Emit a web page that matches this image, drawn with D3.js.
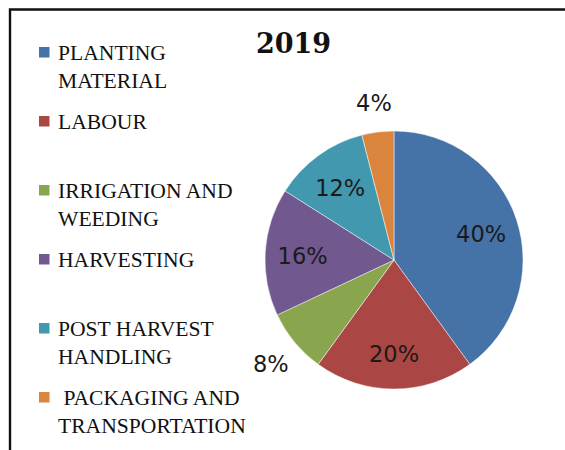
<!DOCTYPE html>
<html>
<head>
<meta charset="utf-8">
<script src="https://cdn.jsdelivr.net/npm/d3@7"></script>
<style>
  html, body { margin: 0; padding: 0; background: #fff; }
  svg { display: block; }
</style>
</head>
<body>
<div id="chart"></div>
<script>
// Cost shares for 2019
const title = "2019";
const categories = [
  "PLANTING\nMATERIAL",
  "LABOUR",
  "IRRIGATION AND\nWEEDING",
  "HARVESTING",
  "POST HARVEST\nHANDLING",
  " PACKAGING AND\nTRANSPORTATION"
];
const shares = [40, 20, 8, 16, 12, 4];
const colors = ["#4572A7", "#AA4643", "#89A54E", "#71588F", "#4198AF", "#DB843D"];

const W = 565, H = 450;
const svg = d3.select("#chart").append("svg")
  .attr("width", W).attr("height", H);

// frame (top and left edges visible)
svg.append("path")
  .attr("d", `M10,${H} V9.5 H${W}`)
  .attr("fill", "none")
  .attr("stroke", "#111")
  .attr("stroke-width", 2.4);

// title
svg.append("text")
  .attr("x", 293.5).attr("y", 53)
  .attr("text-anchor", "middle")
  .attr("font-family", "'DejaVu Serif', serif")
  .attr("font-weight", "bold")
  .attr("font-size", 27)
  .attr("fill", "#111")
  .text(title);

// pie
const cx = 394, cy = 260, r = 129;
const pie = d3.pie().sort(null).value(d => d)
  .startAngle(0).endAngle(2 * Math.PI);
const arcs = pie(shares);
const arc = d3.arc().innerRadius(0).outerRadius(r);
const inLabel = d3.arc().innerRadius(r * 0.71).outerRadius(r * 0.71);
const outLabel = d3.arc().innerRadius(r * 1.24).outerRadius(r * 1.24);

const g = svg.append("g").attr("transform", `translate(${cx},${cy})`);
g.selectAll("path.slice").data(arcs).join("path")
  .attr("class", "slice")
  .attr("d", arc)
  .attr("fill", (d, i) => colors[i])
  .attr("stroke", "#ffffff")
  .attr("stroke-opacity", 0.6)
  .attr("stroke-width", 0.8);

const fmt = v => v + "%";
g.selectAll("text.lbl").data(arcs).join("text")
  .attr("class", "lbl")
  .attr("transform", d => {
    const c = (d.data < 10 ? outLabel : inLabel).centroid(d);
    return `translate(${c[0]},${c[1] + 2})`;
  })
  .attr("dy", "0.36em")
  .attr("text-anchor", "middle")
  .attr("font-family", "'DejaVu Sans', sans-serif")
  .attr("font-size", 22.5)
  .attr("fill", "#1a1a1a")
  .text(d => fmt(d.data));

// legend
const legendY = d3.scaleLinear().domain([0, categories.length - 1]).range([60, 405]);
const lg = svg.append("g");
const item = lg.selectAll("g.item").data(categories).join("g")
  .attr("class", "item")
  .attr("transform", (d, i) => `translate(0,${legendY(i)})`);

item.append("rect")
  .attr("x", 39).attr("y", -13)
  .attr("width", 10.5).attr("height", 10.5)
  .attr("fill", (d, i) => colors[i]);

item.append("text")
  .attr("font-family", "'Liberation Serif', 'Times New Roman', serif")
  .attr("font-size", 21.6)
  .attr("fill", "#111")
  .style("white-space", "pre")
  .each(function(d) {
    const t = d3.select(this);
    d.split("\n").forEach((line, k) => {
      t.append("tspan")
        .attr("x", 58)
        .attr("y", k * 28)
        .text(line);
    });
  });
</script>
</body>
</html>
